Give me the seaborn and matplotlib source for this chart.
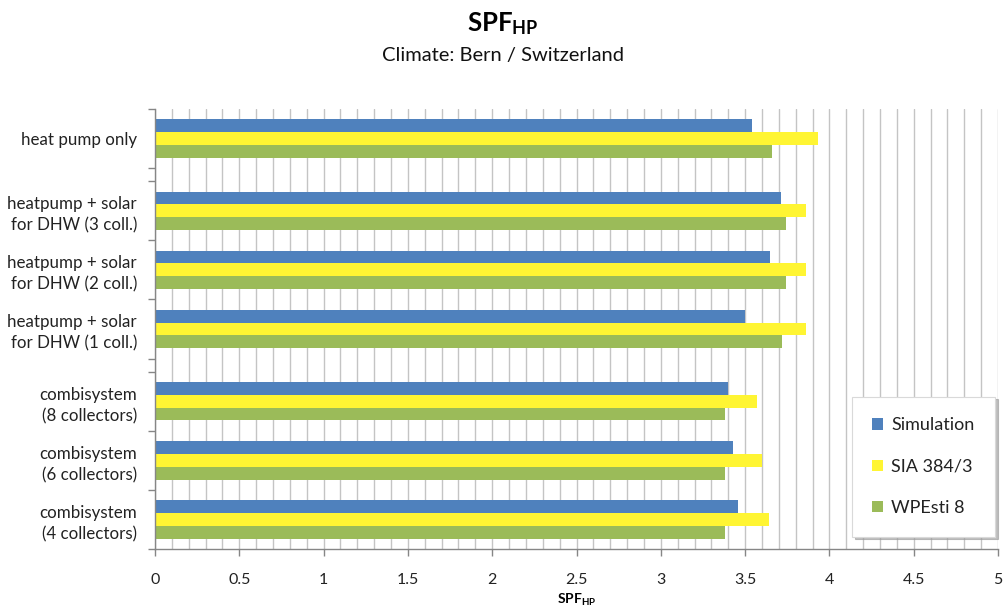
import matplotlib
matplotlib.use("Agg")
import matplotlib.pyplot as plt
import seaborn as sns
import pandas as pd
from matplotlib.ticker import MultipleLocator, FixedLocator

# ---------------- data ----------------
categories = [
    "heat pump only",
    "heatpump + solar\nfor DHW (3 coll.)",
    "heatpump + solar\nfor DHW (2 coll.)",
    "heatpump + solar\nfor DHW (1 coll.)",
    "combisystem\n(8 collectors)",
    "combisystem\n(6 collectors)",
    "combisystem\n(4 collectors)",
]
groups = [0, 1, 1, 1, 2, 2, 2]
series = ["Simulation", "SIA 384/3", "WPEsti 8"]
simulation = [3.54, 3.71, 3.65, 3.50, 3.40, 3.43, 3.46]
sia_384_3 = [3.93, 3.86, 3.86, 3.86, 3.57, 3.60, 3.64]
wpesti_8 = [3.66, 3.74, 3.74, 3.72, 3.38, 3.38, 3.38]
x_ticks = [0, 0.5, 1, 1.5, 2, 2.5, 3, 3.5, 4, 4.5, 5]
x_tick_labels = ["0", "0.5", "1", "1.5", "2", "2.5", "3", "3.5", "4", "4.5", "5"]

# ---------------- style ----------------
sns.set_style("white")
plt.rcParams["font.family"] = ["Lato", "DejaVu Sans"]
plt.rcParams["mathtext.fontset"] = "custom"
plt.rcParams["mathtext.rm"] = "Lato"
plt.rcParams["mathtext.bf"] = "Lato:bold"
plt.rcParams["mathtext.it"] = "Lato:italic"

colors = ["#4F81BD", "#FFF533", "#9BBB59"]
GAP = 0.22
pos = [i + GAP * g for i, g in enumerate(groups)]

values = [simulation, sia_384_3, wpesti_8]
rows = []
for s, vals in zip(series, values):
    for p, v in zip(pos, vals):
        rows.append({"pos": p, "value": v, "series": s})
df = pd.DataFrame(rows)

fig = plt.figure(figsize=(10.06, 6.10), dpi=100)
ax = fig.add_axes([155 / 1006, 1 - 549 / 610, 843 / 1006, 440 / 610])

sns.barplot(data=df, x="value", y="pos", hue="series", hue_order=series,
            orient="h", native_scale=True, width=0.65, palette=colors,
            saturation=1, linewidth=0, errorbar=None, ax=ax)

ax.set_xlim(0, 5)
ax.set_ylim(pos[-1] + 0.5, pos[0] - 0.5)

# x axis
ax.xaxis.set_major_locator(FixedLocator(x_ticks))
ax.set_xticklabels(x_tick_labels, fontsize=11.5, color="#222222")
ax.xaxis.set_minor_locator(MultipleLocator(0.1))
ax.grid(True, axis="x", which="both", color="#C4C4C4", lw=1)
ax.set_axisbelow(True)
ax.tick_params(axis="x", which="major", direction="out", length=5, width=1,
               color="#868686", pad=12, bottom=True)
ax.tick_params(axis="x", which="minor", length=0)

# y axis: boundary ticks + centered labels
bounds = sorted(set([round(p - 0.5, 4) for p in pos] + [round(p + 0.5, 4) for p in pos]))
ax.yaxis.set_major_locator(FixedLocator(bounds))
ax.yaxis.set_minor_locator(FixedLocator(pos))
ax.yaxis.set_major_formatter(plt.NullFormatter())
ax.yaxis.set_minor_formatter(plt.FixedFormatter(categories))
ax.tick_params(axis="y", which="major", direction="out", length=5, width=1,
               color="#868686", left=True)
ax.tick_params(axis="y", which="minor", length=0, pad=13, labelsize=12.2,
               labelcolor="#222222")
for lbl in ax.get_yticklabels(minor=True):
    lbl.set_horizontalalignment("right")
    lbl.set_multialignment("right")
    lbl.set_linespacing(1.4)

ax.set_xlabel("")
ax.set_ylabel("")
for side in ["top", "right"]:
    ax.spines[side].set_visible(False)
for side in ["left", "bottom"]:
    ax.spines[side].set_color("#868686")
    ax.spines[side].set_linewidth(1)

leg = ax.legend(loc="lower right", bbox_to_anchor=(0.997, 0.028), borderaxespad=0,
                frameon=True, fancybox=False, shadow={"color": "#999999", "alpha": 0.6},
                handlelength=0.6, handleheight=0.6, handletextpad=0.45,
                labelspacing=1.4, borderpad=1.15, fontsize=13, edgecolor="#D9D9D9")
leg.get_frame().set_linewidth(0.8)
for t in leg.get_texts():
    t.set_color("#222222")

# titles
fig.text(0.5, 1 - 24 / 610, r"$\mathbf{SPF}_{\mathbf{HP}}$", ha="center", va="center",
         fontsize=18.5, color="black")
fig.text(0.5, 1 - 55 / 610, "Climate: Bern / Switzerland", ha="center", va="center",
         fontsize=14.5, color="#111111")
fig.text((155 + 998) / 2 / 1006, 1 - 600 / 610, r"$\mathbf{SPF}_{\mathbf{HP}}$",
         ha="center", va="center", fontsize=10, color="black")

fig.savefig("out.png", dpi=100)
